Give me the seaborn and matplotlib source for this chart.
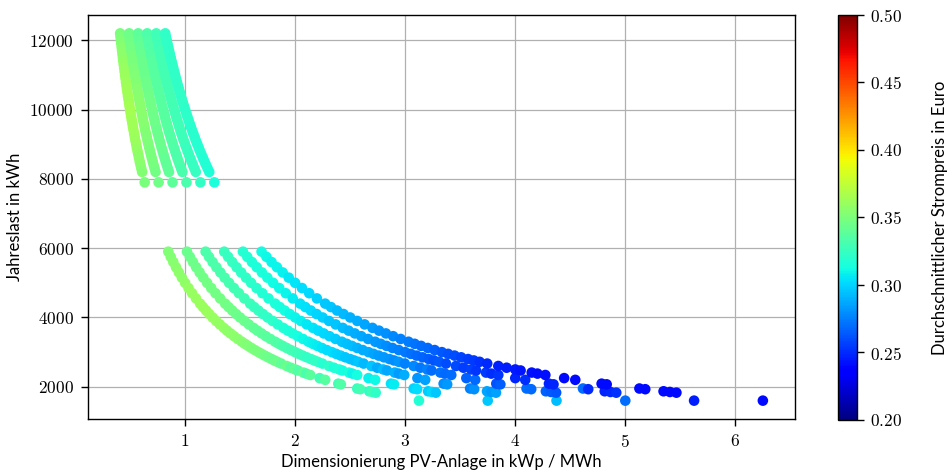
import numpy as np
import pandas as pd
import matplotlib
matplotlib.use("Agg")
import matplotlib.pyplot as plt
import seaborn as sns
from matplotlib.ticker import FuncFormatter
from matplotlib.cm import ScalarMappable
from matplotlib.colors import Normalize

# PV system sizes (kWp) – one curve per size in each load group
pv_sizes = [5, 6, 7, 8, 9, 10]

# annual loads (kWh), large-consumer group
loads_high = [12200, 12100, 12000, 11900, 11800, 11700, 11600, 11500, 11400, 11300,
              11200, 11100, 11000, 10900, 10800, 10700, 10600, 10500, 10400, 10300,
              10200, 10100, 10000, 9900, 9800, 9700, 9600, 9500, 9400, 9300,
              9200, 9100, 9000, 8900, 8800, 8700, 8600, 8500, 8400, 8300,
              8200, 7900]

# annual loads (kWh), small-consumer group
loads_low = [5900, 5750, 5600, 5450, 5300, 5150, 5000, 4850, 4700, 4550,
             4400, 4300, 4200, 4100, 4000, 3900, 3800, 3700, 3620, 3540,
             3460, 3380, 3300, 3240, 3180, 3120, 3060, 3000, 2950, 2900,
             2850, 2800, 2760, 2720, 2670, 2600, 2550, 2500, 2470, 2410,
             2380, 2340, 2250, 2200, 2090, 2070, 1950, 1930, 1870, 1850,
             1830, 1600]

# average electricity price (0.1 ct units -> /1000 = Euro), large-consumer group
price_high_5 = [350, 351, 352, 353, 354, 355, 356, 357, 358, 359,
                360, 360, 361, 361, 362, 362, 363, 363, 364, 364,
                364, 365, 365, 365, 365, 364, 364, 363, 363, 362,
                362, 361, 361, 360, 359, 358, 357, 356, 355, 354,
                353, 350]
price_high_6 = [345, 345, 346, 346, 347, 347, 348, 349, 350, 350,
                351, 351, 352, 352, 353, 353, 354, 354, 354, 355,
                355, 355, 355, 355, 355, 354, 354, 354, 353, 353,
                352, 352, 351, 351, 350, 350, 349, 349, 348, 348,
                347, 346]
price_high_7 = [339, 339, 340, 340, 341, 341, 342, 342, 343, 343,
                344, 344, 344, 344, 345, 345, 345, 345, 346, 346,
                346, 346, 346, 346, 345, 345, 345, 345, 344, 344,
                344, 343, 343, 343, 342, 342, 341, 341, 340, 340,
                340, 339]
price_high_8 = [333, 333, 334, 334, 334, 334, 335, 335, 336, 336,
                336, 336, 337, 337, 337, 337, 337, 337, 337, 337,
                337, 337, 337, 337, 337, 336, 336, 336, 336, 335,
                335, 335, 335, 334, 334, 333, 333, 333, 333, 332,
                332, 332]
price_high_9 = [328, 328, 328, 328, 328, 329, 329, 329, 329, 329,
                329, 329, 329, 329, 329, 329, 329, 329, 329, 329,
                329, 329, 329, 328, 328, 328, 328, 328, 328, 327,
                327, 327, 327, 326, 326, 326, 326, 325, 325, 325,
                325, 324]
price_high_10 = [323, 323, 323, 323, 323, 323, 323, 323, 323, 323,
                 323, 323, 322, 322, 322, 322, 322, 322, 322, 322,
                 322, 322, 321, 321, 321, 321, 321, 320, 320, 320,
                 320, 320, 319, 319, 319, 319, 318, 318, 318, 318,
                 317, 316]

# average electricity price, small-consumer group
price_low_5 = [352, 353, 354, 355, 356, 357, 358, 359, 360, 360, 361, 361, 361, 361, 360, 360, 359, 359, 358, 357,
               356, 355, 354, 353, 352, 351, 350, 349, 348, 346, 345, 344, 342, 345, 340, 344, 336, 342, 334, 340,
               332, 338, 330, 336, 328, 334, 326, 330, 324, 328, 322, 318]
price_low_6 = [343, 344, 345, 345, 346, 346, 347, 347, 347, 347, 347, 346, 346, 345, 344, 343, 342, 341, 340, 339,
               338, 336, 335, 334, 332, 331, 330, 328, 327, 326, 324, 323, 322, 324, 319, 321, 316, 318, 313, 316,
               310, 313, 308, 311, 304, 307, 300, 303, 298, 301, 297, 297]
price_low_7 = [333, 333, 333, 333, 332, 332, 331, 330, 329, 328, 327, 326, 325, 324, 322, 321, 319, 318, 316, 315,
               313, 311, 310, 308, 307, 305, 303, 302, 300, 299, 297, 296, 294, 297, 292, 295, 289, 293, 287, 290,
               284, 288, 282, 285, 279, 283, 276, 280, 286, 283, 285, 293]
price_low_8 = [326, 325, 325, 324, 323, 322, 321, 320, 318, 317, 315, 314, 313, 311, 310, 308, 306, 305, 303, 301,
               300, 298, 296, 294, 293, 291, 289, 288, 286, 284, 283, 281, 279, 281, 276, 278, 273, 275, 270, 272,
               268, 270, 266, 268, 262, 265, 270, 268, 266, 264, 263, 270]
price_low_9 = [319, 318, 317, 316, 315, 314, 312, 311, 309, 307, 305, 304, 302, 300, 299, 297, 295, 293, 291, 289,
               287, 285, 283, 281, 279, 277, 275, 273, 271, 269, 267, 265, 263, 264, 260, 259, 256, 257, 253, 255,
               251, 253, 249, 251, 247, 249, 270, 250, 249, 250, 252, 246]
price_low_10 = [312, 311, 310, 309, 308, 306, 305, 303, 301, 299, 297, 295, 293, 292, 290, 288, 286, 284, 282, 280,
                278, 276, 274, 272, 270, 268, 266, 264, 262, 260, 258, 256, 254, 252, 250, 248, 246, 245, 244, 243,
                242, 242, 241, 241, 240, 240, 240, 240, 240, 240, 241, 240]

price_high = dict(zip(pv_sizes, [price_high_5, price_high_6, price_high_7, price_high_8, price_high_9, price_high_10]))
price_low = dict(zip(pv_sizes, [price_low_5, price_low_6, price_low_7, price_low_8, price_low_9, price_low_10]))

rows = []
for pv in pv_sizes:
    for load, p in zip(loads_high, price_high[pv]):
        rows.append((pv / (load / 1000.0), load, p / 1000.0))
for pv in pv_sizes:
    for load, p in zip(loads_low, price_low[pv]):
        rows.append((pv / (load / 1000.0), load, p / 1000.0))
df = pd.DataFrame(rows, columns=["ratio", "load", "price"])

sns.set_theme(style="ticks")
plt.rcParams["font.family"] = ["Lato", "DejaVu Sans"]
plt.rcParams["mathtext.fontset"] = "cm"

W, H = 952, 472
fig = plt.figure(figsize=(W / 100, H / 100), dpi=100)
ax = fig.add_axes([88 / W, 1 - 419 / H, (795 - 88) / W, (419 - 15) / H])
cax = fig.add_axes([838 / W, 1 - 420 / H, 19 / W, (420 - 15) / H])

vmin, vmax = 0.2, 0.5
jet = matplotlib.colormaps["jet"]
sns.scatterplot(data=df, x="ratio", y="load", hue="price", palette=jet,
                hue_norm=(vmin, vmax), s=58, linewidth=0, legend=False, ax=ax, zorder=3)

ax.set_xticks([1, 2, 3, 4, 5, 6])
ax.set_yticks([2000, 4000, 6000, 8000, 10000, 12000])
fmt = FuncFormatter(lambda v, p: f"${v:g}$")
ax.xaxis.set_major_formatter(fmt)
ax.yaxis.set_major_formatter(fmt)
ax.grid(True, color="#b0b0b0", linewidth=0.9, zorder=0)
ax.set_axisbelow(True)
for s in ax.spines.values():
    s.set_color("black")
    s.set_linewidth(1.0)
ax.tick_params(axis="both", colors="black", labelsize=12.5, length=5, width=1.0, pad=5)
ax.set_xlabel("Dimensionierung PV-Anlage in kWp / MWh", fontsize=12, color="black", labelpad=3)
ax.set_ylabel("Jahreslast in kWh", fontsize=12, color="black", labelpad=5)

sm = ScalarMappable(norm=Normalize(vmin, vmax), cmap=jet)
cb = fig.colorbar(sm, cax=cax)
cb.set_ticks([0.20, 0.25, 0.30, 0.35, 0.40, 0.45, 0.50])
cb.ax.yaxis.set_major_formatter(FuncFormatter(lambda v, p: f"${v:.2f}$"))
cb.ax.tick_params(colors="black", labelsize=12.5, length=5, width=1.0, pad=4)
cb.outline.set_edgecolor("black")
cb.outline.set_linewidth(1.0)
cb.set_label("Durchschnittlicher Strompreis in Euro", fontsize=12, color="black", labelpad=22)

fig.savefig("out.png", dpi=100)
